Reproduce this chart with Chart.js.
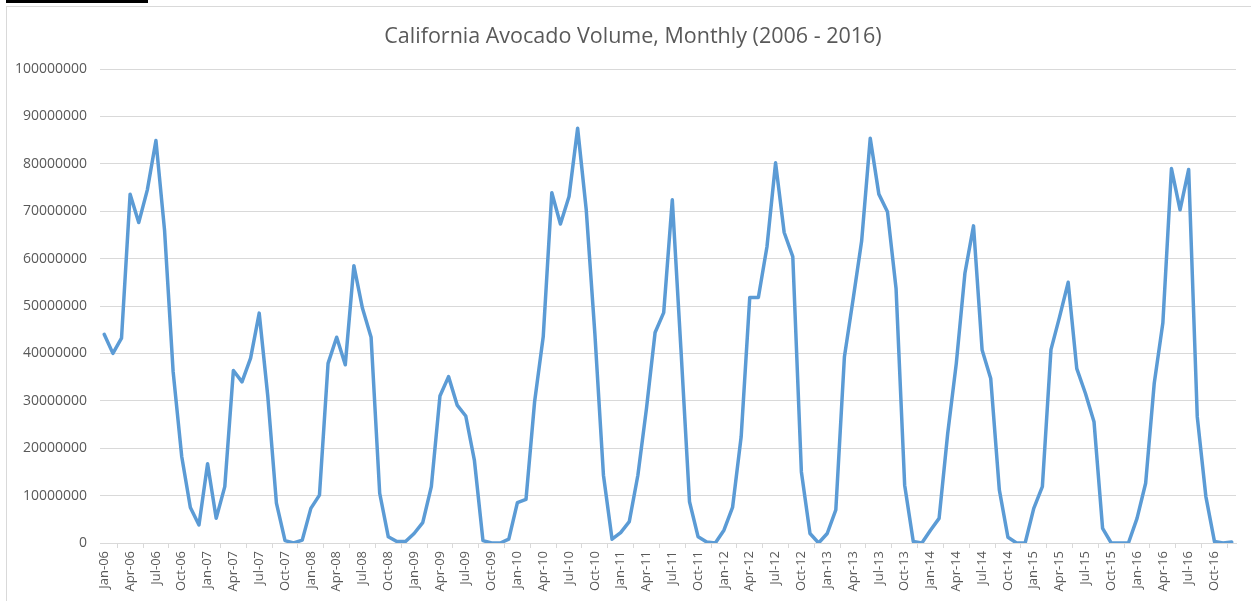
<!DOCTYPE html>
<html>
<head>
<meta charset="utf-8">
<title>California Avocado Volume, Monthly (2006 - 2016)</title>
<script src="https://cdn.jsdelivr.net/npm/chart.js@4.4.1/dist/chart.umd.min.js"></script>
<style>
  html, body { margin: 0; padding: 0; background: #fff; }
  #wrap { position: relative; width: 1251px; height: 601px; overflow: hidden; }
  #frame { position: absolute; left: 6px; top: 6px; width: 1300px; height: 700px;
           border-left: 1px solid #d9d9d9; border-top: 1px solid #d9d9d9; pointer-events: none; }
  #bar { position: absolute; left: 6px; top: 0; width: 142px; height: 3px; background: #000; }
  #title { position: absolute; left: 0; top: 22px; width: 1266px; text-align: center;
           font: 21.5px/26px "Open Sans", sans-serif; color: #595959; }
</style>
</head>
<body>
<div id="wrap">
  <canvas id="chart-avocado"></canvas>
  <div id="frame"></div>
  <div id="bar"></div>
  <div id="title">California Avocado Volume, Monthly (2006 - 2016)</div>
</div>
<script>
// month labels on the category axis
var monthNames = ["Jan", "Feb", "Mar", "Apr", "May", "Jun", "Jul", "Aug", "Sep", "Oct", "Nov", "Dec"];
var years = ["06", "07", "08", "09", "10", "11", "12", "13", "14", "15", "16"];

// volume per month, in millions
var vol2006 = [44.0, 40.0, 43.2, 73.6, 67.6, 74.5, 84.9, 66.0, 36.1, 18.2, 7.5, 3.8];
var vol2007 = [16.7, 5.2, 11.9, 36.4, 34.0, 39.0, 48.5, 30.9, 8.4, 0.5, 0, 0.6];
var vol2008 = [7.3, 10.1, 37.9, 43.4, 37.6, 58.5, 49.5, 43.4, 10.5, 1.3, 0.3, 0.3];
var vol2009 = [2.0, 4.3, 11.9, 31.0, 35.1, 29.1, 26.8, 17.5, 0.5, 0, 0, 0.8];
var vol2010 = [8.5, 9.2, 29.8, 43.5, 73.9, 67.3, 73.1, 87.5, 70.3, 44.2, 14.3, 0.8];
var vol2011 = [2.2, 4.5, 14.3, 28.4, 44.4, 48.6, 72.4, 41.0, 8.7, 1.3, 0.2, 0];
var vol2012 = [2.7, 7.5, 22.4, 51.8, 51.8, 62.5, 80.2, 65.5, 60.4, 15.0, 2.0, 0];
var vol2013 = [2.0, 7.0, 39.3, 51.3, 63.7, 85.4, 73.6, 69.9, 53.7, 12.2, 0.3, 0];
var vol2014 = [2.7, 5.2, 23.1, 37.9, 56.9, 66.9, 40.7, 34.7, 11.2, 1.2, 0, 0];
var vol2015 = [7.3, 11.9, 40.8, 47.7, 55.0, 36.8, 31.6, 25.6, 3.1, 0, 0, 0];
var vol2016 = [5.2, 12.6, 33.7, 46.4, 79.0, 70.3, 78.8, 26.6, 9.8, 0.3, 0, 0.2];

var labels = [];
years.forEach(function (yy) {
  monthNames.forEach(function (m) { labels.push(m + "-" + yy); });
});
var volume = [].concat(vol2006, vol2007, vol2008, vol2009, vol2010, vol2011,
  vol2012, vol2013, vol2014, vol2015, vol2016);

var gridColor = "#d9d9d9";
var textColor = "#595959";

if (document.querySelector("#chart-avocado")) {
  var ctx = document.getElementById("chart-avocado").getContext("2d");

  new Chart(ctx, {
    type: "line",
    data: {
      labels: labels,
      datasets: [{
        label: "Volume",
        data: volume,
        borderColor: "#5b9bd5",
        borderWidth: 3.5,
        borderJoinStyle: "round",
        borderCapStyle: "round",
        pointRadius: 0,
        tension: 0,
        fill: false,
      }],
    },
    options: {
      responsive: true,
      maintainAspectRatio: false,
      animation: false,
      layout: {
        padding: { left: 6, right: 15, top: 69, bottom: 0 },
      },
      plugins: {
        legend: { display: false },
        tooltip: { enabled: false },
        title: { display: false },
      },
      scales: {
        x: {
          offset: true,
          grid: {
            display: true,
            offset: true,
            drawOnChartArea: false,
            drawTicks: true,
            tickLength: 5,
            color: gridColor,
          },
          border: { display: true, color: gridColor },
          ticks: {
            autoSkip: false,
            maxRotation: 90,
            minRotation: 90,
            padding: 3,
            color: textColor,
            font: { family: "Open Sans", size: 13 },
            callback: function (val, i) {
              return i % 3 === 0 ? this.getLabelForValue(val) : null;
            },
          },
          afterFit: function (scale) { scale.height = 58; },
        },
        y: {
          min: 0,
          max: 100,
          grid: {
            color: gridColor,
            drawTicks: false,
          },
          border: { display: false },
          ticks: {
            stepSize: 10,
            padding: 13,
            color: textColor,
            font: { family: "Open Sans", size: 14 },
            callback: function (v) { return String(Math.round(v * 1000000)); },
          },
          afterFit: function (scale) { scale.width = 94; },
        },
      },
    },
  });
}
</script>
</body>
</html>
